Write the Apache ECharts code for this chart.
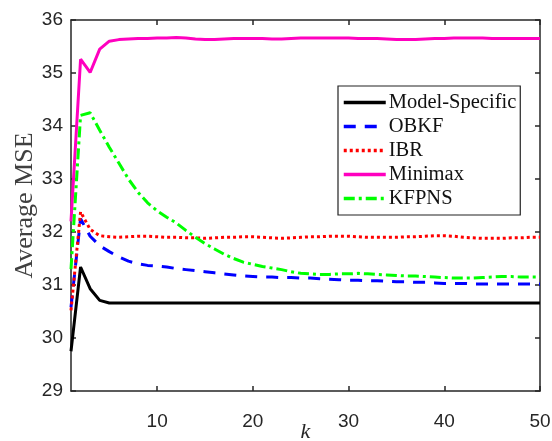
<!DOCTYPE html>
<html><head><meta charset="utf-8">
<script src="https://cdn.jsdelivr.net/npm/echarts@6/dist/echarts.min.js"></script>
<style>html,body{margin:0;padding:0;background:#fff}#c{width:552px;height:441px}</style>
</head><body><div id="c"></div>
<script>
const kValues = Array.from({length: 50}, (_, i) => i + 1);
const xTicks = [10, 20, 30, 40, 50];
const seriesNames = ['Model-Specific', 'OBKF', 'IBR', 'Minimax', 'KFPNS'];
const modelSpecific = [29.75,31.34,30.93,30.71,30.66,30.66,30.66,30.66,30.66,30.66,30.66,30.66,30.66,30.66,30.66,30.66,30.66,30.66,30.66,30.66,30.66,30.66,30.66,30.66,30.66,30.66,30.66,30.66,30.66,30.66,30.66,30.66,30.66,30.66,30.66,30.66,30.66,30.66,30.66,30.66,30.66,30.66,30.66,30.66,30.66,30.66,30.66,30.66,30.66,30.66];
const obkf = [30.58,32.25,31.92,31.74,31.63,31.53,31.45,31.40,31.37,31.36,31.34,31.31,31.29,31.27,31.25,31.23,31.21,31.19,31.17,31.16,31.15,31.15,31.14,31.14,31.13,31.13,31.12,31.11,31.10,31.09,31.09,31.08,31.08,31.07,31.06,31.06,31.05,31.05,31.04,31.03,31.03,31.03,31.02,31.02,31.02,31.02,31.02,31.02,31.02,31.02];
const ibr = [30.52,32.38,32.05,31.93,31.91,31.90,31.91,31.92,31.92,31.91,31.90,31.90,31.89,31.89,31.88,31.89,31.90,31.90,31.91,31.91,31.90,31.89,31.88,31.89,31.90,31.91,31.91,31.92,31.92,31.92,31.91,31.90,31.90,31.90,31.90,31.91,31.91,31.92,31.93,31.93,31.92,31.90,31.89,31.88,31.88,31.88,31.89,31.89,31.90,31.90];
const minimax = [32.20,35.26,35.01,35.45,35.60,35.63,35.64,35.65,35.65,35.66,35.66,35.67,35.66,35.64,35.63,35.63,35.64,35.65,35.65,35.65,35.65,35.64,35.64,35.65,35.66,35.66,35.66,35.66,35.66,35.66,35.65,35.65,35.65,35.64,35.63,35.63,35.63,35.64,35.65,35.65,35.66,35.66,35.66,35.66,35.65,35.65,35.65,35.65,35.65,35.65];
const kfpns = [31.30,34.20,34.25,33.92,33.60,33.30,33.00,32.75,32.55,32.40,32.28,32.17,32.03,31.90,31.78,31.68,31.58,31.50,31.43,31.39,31.35,31.32,31.29,31.25,31.22,31.21,31.20,31.20,31.21,31.21,31.22,31.21,31.20,31.19,31.18,31.17,31.17,31.16,31.15,31.14,31.13,31.13,31.13,31.14,31.15,31.16,31.16,31.15,31.15,31.15];

const allValues = [modelSpecific, obkf, ibr, minimax, kfpns];
const colors = ['#000000', '#0000ff', '#ff0000', '#ff00bf', '#00ff00'];
const dashes = ['solid', [12, 9], [3, 3], 'solid', [11, 4, 3, 4]];

const axisColor = '#262626';
const chart = echarts.init(document.getElementById('c'), null, {renderer: 'canvas'});
const series = seriesNames.map((name, i) => ({
  name, type: 'line', symbol: 'none', showSymbol: false, smooth: false,
  data: kValues.map((k, j) => [k, allValues[i][j]]),
  lineStyle: {color: colors[i], width: 3, type: dashes[i]},
  itemStyle: {color: colors[i]},
  z: i === 0 ? 5 : 3
}));
const option = {
  animation: false,
  backgroundColor: '#fff',
  grid: {left: 71, right: 12, top: 20, bottom: 50, containLabel: false, outerBoundsMode: 'none'},
  legend: {
    orient: 'vertical', left: 338, top: 86,
    data: seriesNames,
    backgroundColor: '#fff', borderColor: '#222', borderWidth: 1.2,
    padding: [6, 4, 6, 4],
    itemWidth: 42, itemHeight: 14, itemGap: 3,
    itemStyle: {opacity: 0},
    lineStyle: {width: 3.5},
    textStyle: {fontFamily: 'Liberation Serif', fontSize: 20.5, color: '#111', lineHeight: 20, padding: [0, 0, 0, -2]}
  },
  xAxis: [{
    type: 'value', min: 1, max: 50, position: 'bottom',
    name: 'k', nameLocation: 'middle', nameGap: 30, nameMoveOverlap: false,
    nameTextStyle: {fontFamily: 'Liberation Serif', fontStyle: 'italic', fontSize: 22, color: axisColor},
    axisLine: {show: true, lineStyle: {color: axisColor, width: 1.5}},
    axisTick: {show: true, inside: true, length: 5, customValues: xTicks, lineStyle: {color: axisColor, width: 1.5}},
    axisLabel: {customValues: xTicks, fontFamily: 'Liberation Sans', fontSize: 19, color: axisColor, margin: 21},
    splitLine: {show: false}
  }, {
    type: 'value', min: 1, max: 50, position: 'top',
    axisLine: {show: true, onZero: false, lineStyle: {color: axisColor, width: 1.5}},
    axisTick: {show: true, inside: true, length: 5, customValues: xTicks, lineStyle: {color: axisColor, width: 1.5}},
    axisLabel: {show: false}, splitLine: {show: false}
  }],
  yAxis: [{
    type: 'value', min: 29, max: 36, interval: 1, position: 'left',
    name: 'Average MSE', nameLocation: 'middle', nameGap: 33, nameMoveOverlap: false,
    nameTextStyle: {fontFamily: 'Liberation Serif', fontSize: 26, color: '#404040'},
    axisLine: {show: true, lineStyle: {color: axisColor, width: 1.5}},
    axisTick: {show: true, inside: true, length: 5, lineStyle: {color: axisColor, width: 1.5}},
    axisLabel: {fontFamily: 'Liberation Sans', fontSize: 19, color: axisColor, margin: 8},
    splitLine: {show: false}
  }, {
    type: 'value', min: 29, max: 36, interval: 1, position: 'right',
    axisLine: {show: true, onZero: false, lineStyle: {color: axisColor, width: 1.5}},
    axisTick: {show: true, inside: true, length: 5, lineStyle: {color: axisColor, width: 1.5}},
    axisLabel: {show: false}, splitLine: {show: false}
  }],
  series
};
chart.setOption(option);
</script></body></html>
